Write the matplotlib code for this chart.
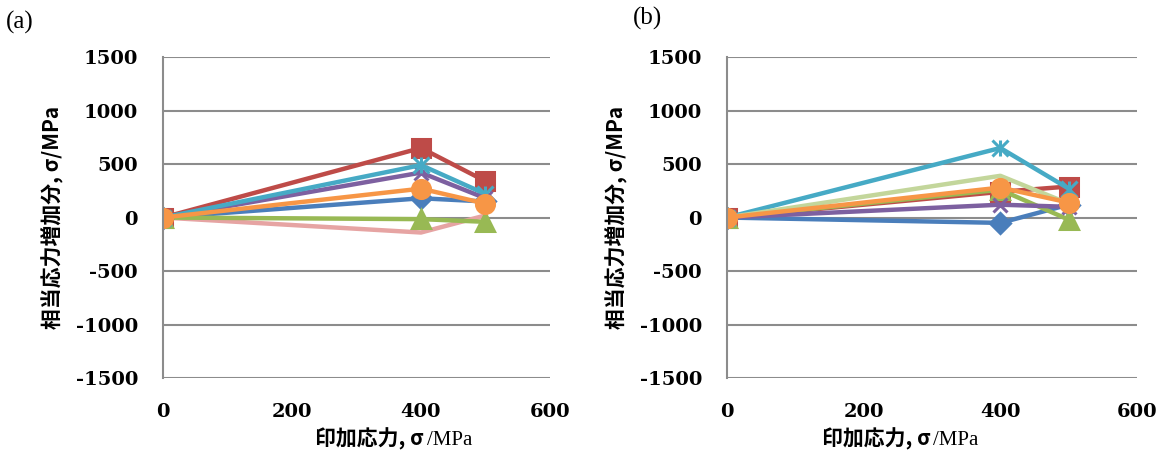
import matplotlib.pyplot as plt
from matplotlib.offsetbox import TextArea, HPacker, AnchoredOffsetbox

plt.rcParams['axes.unicode_minus'] = False

# applied stress (x) for every series
stress = [0, 400, 500]

# panel (a) : increase of equivalent stress
a_blue = [0, 180, 150]
a_red = [0, 650, 340]
a_green = [0, -15, -40]
a_purple = [0, 420, 180]
a_aqua = [0, 490, 220]
a_pink = [0, -140, 20]
a_orange = [0, 270, 130]

# panel (b)
b_blue = [0, -50, 120]
b_red = [0, 240, 290]
b_green = [0, 260, -20]
b_purple = [0, 120, 100]
b_aqua = [0, 650, 270]
b_lgreen = [0, 390, 130]
b_orange = [0, 280, 140]

yticks = [-1500, -1000, -500, 0, 500, 1000, 1500]
xticks = [0, 200, 400, 600]

cjk = ['Noto Sans CJK JP', 'DejaVu Sans']
serif = 'DejaVu Serif'

BLUE = '#4a7ebb'
RED = '#be4b48'
GREEN = '#98b954'
PURPLE = '#7d60a0'
AQUA = '#46aac5'
ORANGE = '#f79646'
PINK = '#e6a4a3'
LGREEN = '#c3d69b'

fig = plt.figure(figsize=(11.65, 4.73), dpi=100)


def series(ax, y, color, marker, ms, extra=None):
    ax.plot(stress, y, color=color, lw=3.2, marker=marker, ms=ms,
            mec=color, mfc=color, mew=2.2, solid_joinstyle='round')
    if extra:
        # excel asterisk = cross plus a vertical bar
        ax.plot(stress, y, ls='none', marker=extra, ms=ms, mec=color, mew=2.2)


def setup(ax, label_x):
    ax.set_xlim(0, 600)
    ax.set_ylim(-1500, 1500)
    ax.set_xticks(xticks)
    ax.set_yticks(yticks)
    ax.tick_params(length=0, labelsize=14)
    ax.tick_params(axis='y', pad=18)
    ax.tick_params(axis='x', pad=18)
    for lab in ax.get_xticklabels() + ax.get_yticklabels():
        lab.set_fontfamily(serif)
        lab.set_fontweight('bold')
    for s in ['top', 'right', 'bottom']:
        ax.spines[s].set_visible(False)
    ax.spines['left'].set_color('#8c8c8c')
    ax.spines['left'].set_linewidth(1.5)
    ax.grid(axis='y', color='#8c8c8c', lw=1.5)
    ax.set_axisbelow(True)
    ax.set_ylabel('相当応力増加分, σ/MPa', family=cjk, fontsize=15,
                  fontweight='bold', labelpad=8)
    t1 = TextArea('印加応力, σ', textprops=dict(family=cjk, fontsize=15,
                                              fontweight='bold'))
    t2 = TextArea('/MPa', textprops=dict(family='Liberation Serif', fontsize=15))
    box = HPacker(children=[t1, t2], align='baseline', pad=0, sep=2)
    anchored = AnchoredOffsetbox(loc='center', child=box, pad=0, frameon=False,
                                 bbox_to_anchor=(label_x, 0.072),
                                 bbox_transform=fig.transFigure)
    fig.add_artist(anchored)


ax1 = fig.add_axes([0.1399, 0.2008, 0.3322, 0.6786])
series(ax1, a_pink, PINK, None, 0)
series(ax1, a_blue, BLUE, 'D', 10)
series(ax1, a_red, RED, 's', 13)
series(ax1, a_green, GREEN, '^', 13)
series(ax1, a_purple, PURPLE, 'x', 10)
series(ax1, a_aqua, AQUA, 'x', 11, extra='|')
series(ax1, a_orange, ORANGE, 'o', 13)
setup(ax1, 0.338)

ax2 = fig.add_axes([0.624, 0.2008, 0.352, 0.6786])
series(ax2, b_blue, BLUE, 'D', 10)
series(ax2, b_red, RED, 's', 13)
series(ax2, b_green, GREEN, '^', 13)
series(ax2, b_purple, PURPLE, 'x', 10)
series(ax2, b_aqua, AQUA, 'x', 11, extra='|')
series(ax2, b_lgreen, LGREEN, None, 0)
series(ax2, b_orange, ORANGE, 'o', 13)
setup(ax2, 0.773)

fig.text(0.005, 0.953, '(a)', family='Liberation Serif', fontsize=18, va='center')
fig.text(0.543, 0.960, '(b)', family='Liberation Serif', fontsize=18, va='center')

fig.savefig('out.png', dpi=100)
